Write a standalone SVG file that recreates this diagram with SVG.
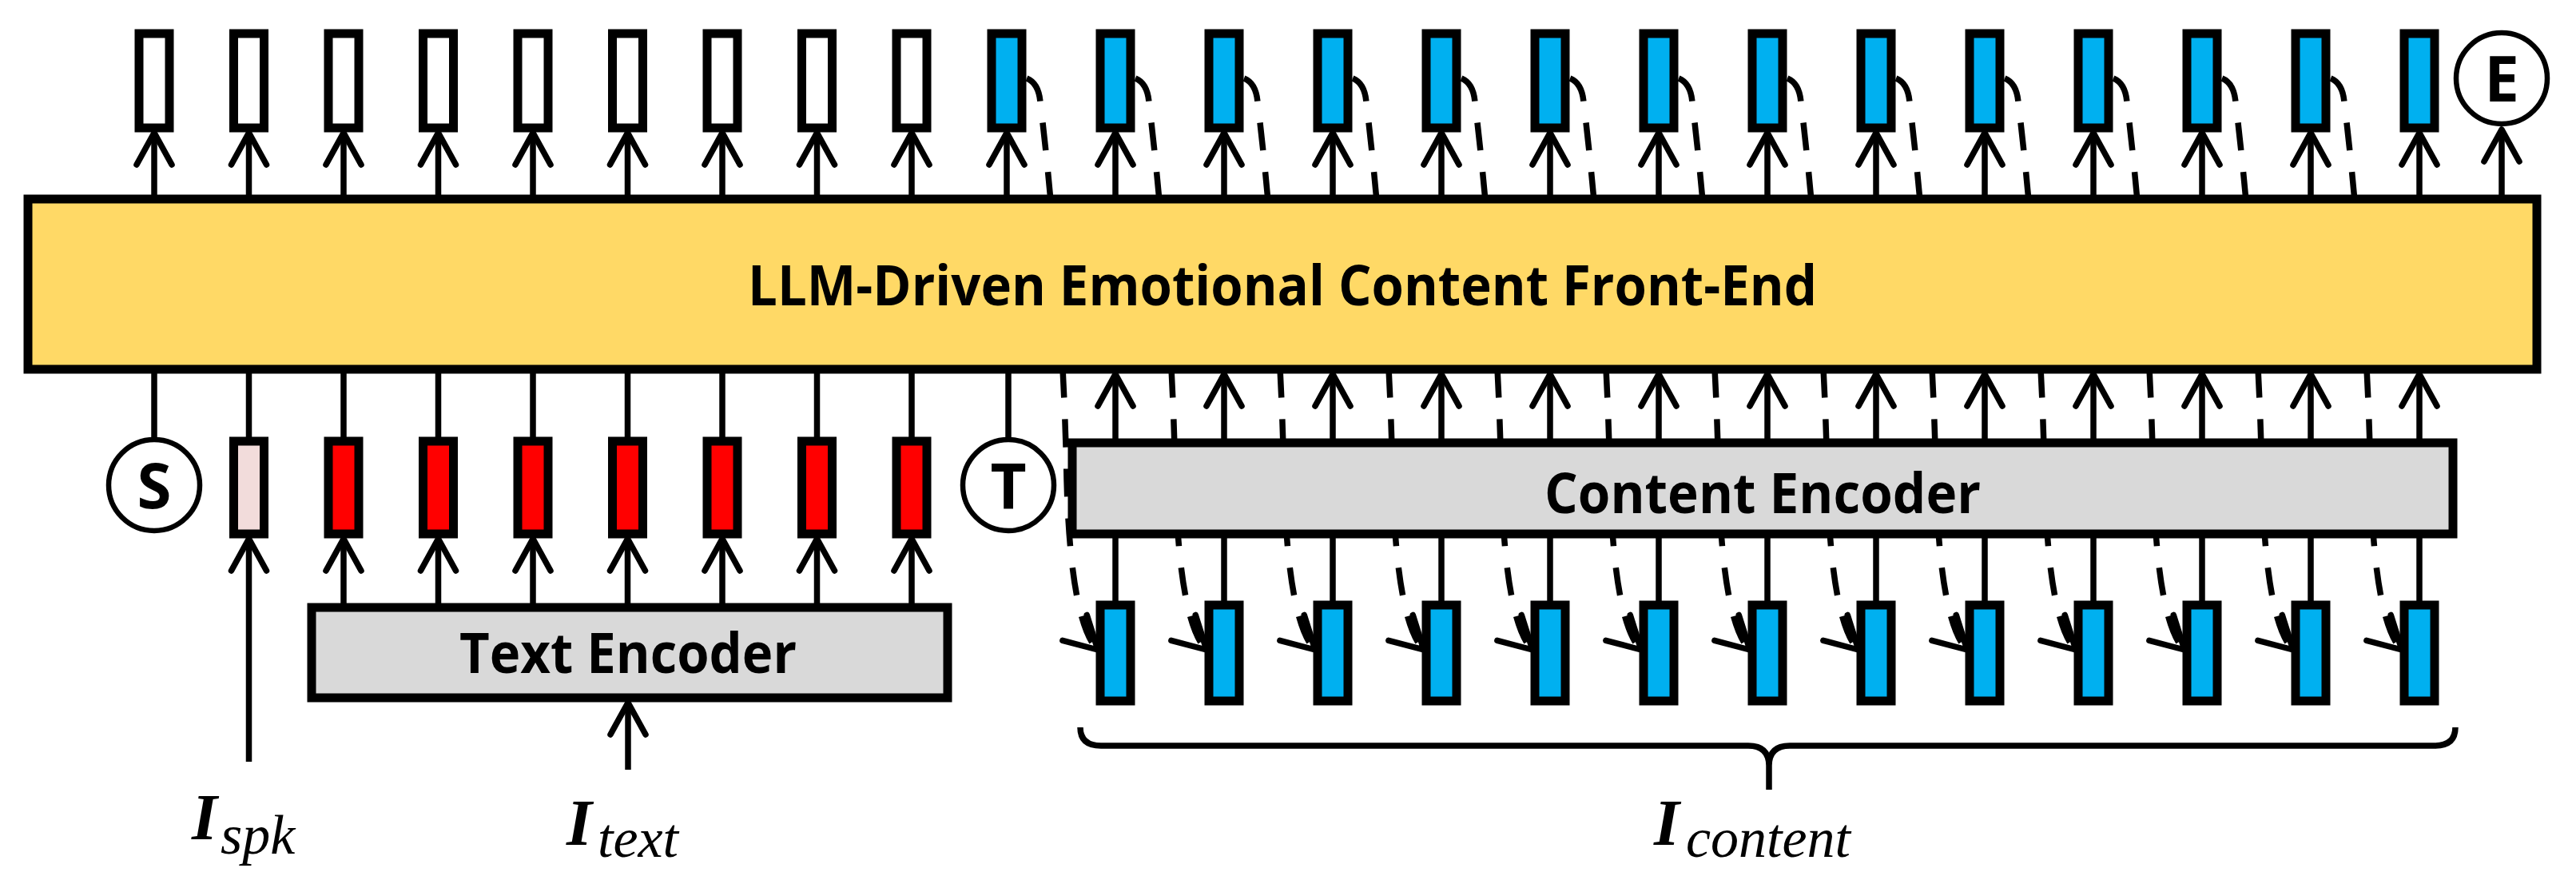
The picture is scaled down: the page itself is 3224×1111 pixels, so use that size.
<svg xmlns="http://www.w3.org/2000/svg" width="3224" height="1111" viewBox="0 0 3224 1111">
<style>
.box{stroke:#000;stroke-width:11}
.w{fill:#fff}.b{fill:#00B0F0}.r{fill:#FF0000}.p{fill:#F2DCDB}
.enc{fill:#D9D9D9;stroke:#000;stroke-width:11}
.llm{fill:#FFD966;stroke:#000;stroke-width:11}
.circ{fill:#fff;stroke:#000;stroke-width:6.5}
.ln{stroke:#000;stroke-width:7.5;fill:none}
.ar{marker-end:url(#ah)}
.dash{stroke-dasharray:35 27}
.lbl{font-family:"Open Sans","Liberation Sans",sans-serif;font-weight:bold;fill:#000}
.math{font-family:"Liberation Serif",serif;font-style:italic;fill:#000}
.big{font-weight:bold;font-size:82px}
.sub{font-size:70px}
</style>
<defs>
<marker id="ah" markerUnits="userSpaceOnUse" viewBox="-50 -30 60 60" markerWidth="60" markerHeight="60" refX="0" refY="0" orient="auto">
<path d="M-40,-22 L0,0 L-40,22" fill="none" stroke="#000" stroke-width="7.5" stroke-linejoin="round" stroke-linecap="round"/>
</marker>
</defs>
<rect width="3224" height="1111" fill="#fff"/>
<g id="connectors">
<path class="ln dash ar" d="M1285,98 Q1300,104 1302,128 C1318,260 1332,440 1335,600 C1338,720 1352,792 1374,813"/>
<path class="ln dash ar" d="M1421,98 Q1436,104 1438,128 C1454,260 1468,440 1471,600 C1474,720 1488,792 1510,813"/>
<path class="ln dash ar" d="M1557,98 Q1572,104 1574,128 C1590,260 1604,440 1607,600 C1610,720 1624,792 1646,813"/>
<path class="ln dash ar" d="M1693,98 Q1708,104 1710,128 C1726,260 1740,440 1743,600 C1746,720 1760,792 1782,813"/>
<path class="ln dash ar" d="M1829,98 Q1844,104 1846,128 C1862,260 1876,440 1879,600 C1882,720 1896,792 1918,813"/>
<path class="ln dash ar" d="M1965,98 Q1980,104 1982,128 C1998,260 2012,440 2015,600 C2018,720 2032,792 2054,813"/>
<path class="ln dash ar" d="M2101,98 Q2116,104 2118,128 C2134,260 2148,440 2151,600 C2154,720 2168,792 2190,813"/>
<path class="ln dash ar" d="M2237,98 Q2252,104 2254,128 C2270,260 2284,440 2287,600 C2290,720 2304,792 2326,813"/>
<path class="ln dash ar" d="M2373,98 Q2388,104 2390,128 C2406,260 2420,440 2423,600 C2426,720 2440,792 2462,813"/>
<path class="ln dash ar" d="M2509,98 Q2524,104 2526,128 C2542,260 2556,440 2559,600 C2562,720 2576,792 2598,813"/>
<path class="ln dash ar" d="M2645,98 Q2660,104 2662,128 C2678,260 2692,440 2695,600 C2698,720 2712,792 2734,813"/>
<path class="ln dash ar" d="M2781,98 Q2796,104 2798,128 C2814,260 2828,440 2831,600 C2834,720 2848,792 2870,813"/>
<path class="ln dash ar" d="M2917,98 Q2932,104 2934,128 C2950,260 2964,440 2967,600 C2970,720 2984,792 3006,813"/>
<line class="ln ar" x1="193" y1="250" x2="193" y2="166"/>
<line class="ln ar" x1="311.5" y1="250" x2="311.5" y2="166"/>
<line class="ln ar" x1="430" y1="250" x2="430" y2="166"/>
<line class="ln ar" x1="548.5" y1="250" x2="548.5" y2="166"/>
<line class="ln ar" x1="667" y1="250" x2="667" y2="166"/>
<line class="ln ar" x1="785.5" y1="250" x2="785.5" y2="166"/>
<line class="ln ar" x1="904" y1="250" x2="904" y2="166"/>
<line class="ln ar" x1="1022.5" y1="250" x2="1022.5" y2="166"/>
<line class="ln ar" x1="1141" y1="250" x2="1141" y2="166"/>
<line class="ln ar" x1="1260" y1="250" x2="1260" y2="166"/>
<line class="ln ar" x1="1396" y1="250" x2="1396" y2="166"/>
<line class="ln ar" x1="1532" y1="250" x2="1532" y2="166"/>
<line class="ln ar" x1="1668" y1="250" x2="1668" y2="166"/>
<line class="ln ar" x1="1804" y1="250" x2="1804" y2="166"/>
<line class="ln ar" x1="1940" y1="250" x2="1940" y2="166"/>
<line class="ln ar" x1="2076" y1="250" x2="2076" y2="166"/>
<line class="ln ar" x1="2212" y1="250" x2="2212" y2="166"/>
<line class="ln ar" x1="2348" y1="250" x2="2348" y2="166"/>
<line class="ln ar" x1="2484" y1="250" x2="2484" y2="166"/>
<line class="ln ar" x1="2620" y1="250" x2="2620" y2="166"/>
<line class="ln ar" x1="2756" y1="250" x2="2756" y2="166"/>
<line class="ln ar" x1="2892" y1="250" x2="2892" y2="166"/>
<line class="ln ar" x1="3028" y1="250" x2="3028" y2="166"/>
<line class="ln ar" x1="3131" y1="250" x2="3131" y2="162"/>
<line class="ln" x1="193" y1="462" x2="193" y2="551"/>
<line class="ln" x1="311.5" y1="462" x2="311.5" y2="550"/>
<line class="ln" x1="430" y1="462" x2="430" y2="550"/>
<line class="ln" x1="548.5" y1="462" x2="548.5" y2="550"/>
<line class="ln" x1="667" y1="462" x2="667" y2="550"/>
<line class="ln" x1="785.5" y1="462" x2="785.5" y2="550"/>
<line class="ln" x1="904" y1="462" x2="904" y2="550"/>
<line class="ln" x1="1022.5" y1="462" x2="1022.5" y2="550"/>
<line class="ln" x1="1141" y1="462" x2="1141" y2="550"/>
<line class="ln" x1="1262" y1="462" x2="1262" y2="551"/>
<line class="ln ar" x1="311.5" y1="953" x2="311.5" y2="674"/>
<line class="ln ar" x1="430" y1="757" x2="430" y2="674"/>
<line class="ln ar" x1="548.5" y1="757" x2="548.5" y2="674"/>
<line class="ln ar" x1="667" y1="757" x2="667" y2="674"/>
<line class="ln ar" x1="785.5" y1="757" x2="785.5" y2="674"/>
<line class="ln ar" x1="904" y1="757" x2="904" y2="674"/>
<line class="ln ar" x1="1022.5" y1="757" x2="1022.5" y2="674"/>
<line class="ln ar" x1="1141" y1="757" x2="1141" y2="674"/>
<line class="ln ar" x1="786" y1="963" x2="786" y2="879"/>
<line class="ln ar" x1="1396" y1="552" x2="1396" y2="468"/>
<line class="ln ar" x1="1532" y1="552" x2="1532" y2="468"/>
<line class="ln ar" x1="1668" y1="552" x2="1668" y2="468"/>
<line class="ln ar" x1="1804" y1="552" x2="1804" y2="468"/>
<line class="ln ar" x1="1940" y1="552" x2="1940" y2="468"/>
<line class="ln ar" x1="2076" y1="552" x2="2076" y2="468"/>
<line class="ln ar" x1="2212" y1="552" x2="2212" y2="468"/>
<line class="ln ar" x1="2348" y1="552" x2="2348" y2="468"/>
<line class="ln ar" x1="2484" y1="552" x2="2484" y2="468"/>
<line class="ln ar" x1="2620" y1="552" x2="2620" y2="468"/>
<line class="ln ar" x1="2756" y1="552" x2="2756" y2="468"/>
<line class="ln ar" x1="2892" y1="552" x2="2892" y2="468"/>
<line class="ln ar" x1="3028" y1="552" x2="3028" y2="468"/>
<line class="ln" x1="1396" y1="670" x2="1396" y2="755"/>
<line class="ln" x1="1532" y1="670" x2="1532" y2="755"/>
<line class="ln" x1="1668" y1="670" x2="1668" y2="755"/>
<line class="ln" x1="1804" y1="670" x2="1804" y2="755"/>
<line class="ln" x1="1940" y1="670" x2="1940" y2="755"/>
<line class="ln" x1="2076" y1="670" x2="2076" y2="755"/>
<line class="ln" x1="2212" y1="670" x2="2212" y2="755"/>
<line class="ln" x1="2348" y1="670" x2="2348" y2="755"/>
<line class="ln" x1="2484" y1="670" x2="2484" y2="755"/>
<line class="ln" x1="2620" y1="670" x2="2620" y2="755"/>
<line class="ln" x1="2756" y1="670" x2="2756" y2="755"/>
<line class="ln" x1="2892" y1="670" x2="2892" y2="755"/>
<line class="ln" x1="3028" y1="670" x2="3028" y2="755"/>
<path class="ln" stroke-width="8" d="M1352,910 Q1352,933 1378,933 H2188 Q2214,933 2214,958 V988 M3073,910 Q3073,933 3047,933 H2240 Q2214,933 2214,958"/>
</g>
<g id="llm">
<rect class="llm" x="35" y="249" width="3140" height="213"/>
<text class="lbl" x="1605" y="382" font-size="70" text-anchor="middle" textLength="1338" lengthAdjust="spacingAndGlyphs">LLM-Driven Emotional Content Front-End</text>
</g>
<g id="out-text">
<rect class="box w" x="174" y="42" width="38" height="118"/>
<rect class="box w" x="292.5" y="42" width="38" height="118"/>
<rect class="box w" x="411" y="42" width="38" height="118"/>
<rect class="box w" x="529.5" y="42" width="38" height="118"/>
<rect class="box w" x="648" y="42" width="38" height="118"/>
<rect class="box w" x="766.5" y="42" width="38" height="118"/>
<rect class="box w" x="885" y="42" width="38" height="118"/>
<rect class="box w" x="1003.5" y="42" width="38" height="118"/>
<rect class="box w" x="1122" y="42" width="38" height="118"/>
</g>
<g id="out-content">
<rect class="box b" x="1241" y="42" width="38" height="118"/>
<rect class="box b" x="1377" y="42" width="38" height="118"/>
<rect class="box b" x="1513" y="42" width="38" height="118"/>
<rect class="box b" x="1649" y="42" width="38" height="118"/>
<rect class="box b" x="1785" y="42" width="38" height="118"/>
<rect class="box b" x="1921" y="42" width="38" height="118"/>
<rect class="box b" x="2057" y="42" width="38" height="118"/>
<rect class="box b" x="2193" y="42" width="38" height="118"/>
<rect class="box b" x="2329" y="42" width="38" height="118"/>
<rect class="box b" x="2465" y="42" width="38" height="118"/>
<rect class="box b" x="2601" y="42" width="38" height="118"/>
<rect class="box b" x="2737" y="42" width="38" height="118"/>
<rect class="box b" x="2873" y="42" width="38" height="118"/>
<rect class="box b" x="3009" y="42" width="38" height="118"/>
</g>
<g id="end-token">
<circle class="circ" cx="3131" cy="98" r="57"/>
<text class="lbl" x="3131" y="127" font-size="78" text-anchor="middle">E</text>
</g>
<g id="start-token">
<circle class="circ" cx="193" cy="607" r="57"/>
<text class="lbl" x="193" y="636" font-size="78" text-anchor="middle">S</text>
</g>
<g id="speaker-emb">
<rect class="box p" x="292.5" y="552" width="38" height="116"/>
</g>
<g id="text-emb">
<rect class="box r" x="411" y="552" width="38" height="116"/>
<rect class="box r" x="529.5" y="552" width="38" height="116"/>
<rect class="box r" x="648" y="552" width="38" height="116"/>
<rect class="box r" x="766.5" y="552" width="38" height="116"/>
<rect class="box r" x="885" y="552" width="38" height="116"/>
<rect class="box r" x="1003.5" y="552" width="38" height="116"/>
<rect class="box r" x="1122" y="552" width="38" height="116"/>
</g>
<g id="turn-token">
<circle class="circ" cx="1262" cy="607" r="57"/>
<text class="lbl" x="1262" y="637" font-size="78" text-anchor="middle">T</text>
</g>
<g id="text-encoder">
<rect class="enc" x="390" y="760" width="796" height="113"/>
<text class="lbl" x="786" y="842" font-size="70" text-anchor="middle" textLength="422" lengthAdjust="spacingAndGlyphs">Text Encoder</text>
</g>
<g id="content-encoder">
<rect class="enc" x="1342" y="554" width="1728" height="114"/>
<text class="lbl" x="2206" y="642" font-size="70" text-anchor="middle" textLength="546" lengthAdjust="spacingAndGlyphs">Content Encoder</text>
</g>
<g id="content-tokens">
<rect class="box b" x="1377" y="757" width="38" height="120"/>
<rect class="box b" x="1513" y="757" width="38" height="120"/>
<rect class="box b" x="1649" y="757" width="38" height="120"/>
<rect class="box b" x="1785" y="757" width="38" height="120"/>
<rect class="box b" x="1921" y="757" width="38" height="120"/>
<rect class="box b" x="2057" y="757" width="38" height="120"/>
<rect class="box b" x="2193" y="757" width="38" height="120"/>
<rect class="box b" x="2329" y="757" width="38" height="120"/>
<rect class="box b" x="2465" y="757" width="38" height="120"/>
<rect class="box b" x="2601" y="757" width="38" height="120"/>
<rect class="box b" x="2737" y="757" width="38" height="120"/>
<rect class="box b" x="2873" y="757" width="38" height="120"/>
<rect class="box b" x="3009" y="757" width="38" height="120"/>
</g>
<g id="labels">
<text class="math"><tspan class="big" x="240" y="1050">I</tspan><tspan class="sub" x="276" y="1068">spk</tspan></text>
<text class="math"><tspan class="big" x="709" y="1057">I</tspan><tspan class="sub" x="748" y="1072">text</tspan></text>
<text class="math"><tspan class="big" x="2070" y="1057">I</tspan><tspan class="sub" x="2110" y="1072">content</tspan></text>
</g>
</svg>
